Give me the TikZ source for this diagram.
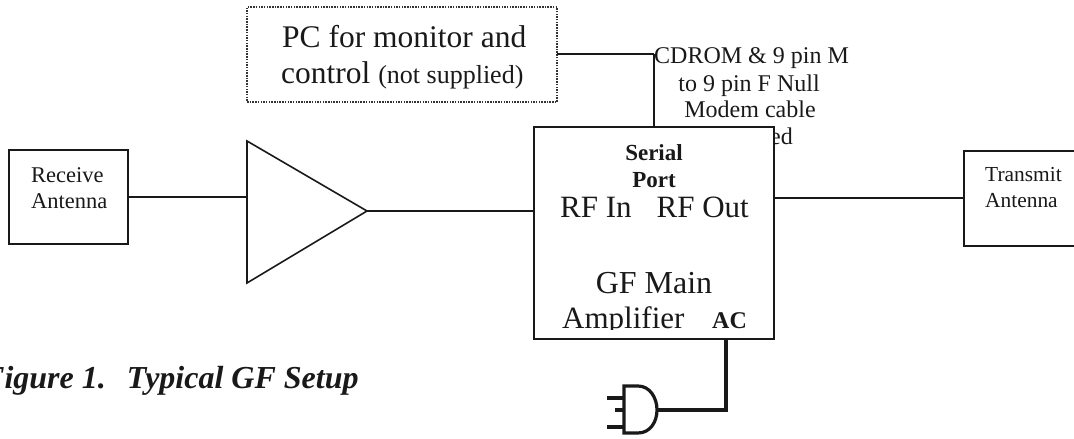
\documentclass[tikz,border=0pt]{standalone}
\usepackage{fontspec}
\setmainfont{Liberation Serif}
\newcommand{\fs}[1]{\fontsize{#1}{#1}\selectfont}
\tikzset{
  boxn/.style={draw=black!90,line width=1.5pt,fill=white,inner sep=0pt,outer sep=0pt,anchor=north west},
  wire/.style={draw=black!90,line width=1.6pt},
  thick wire/.style={draw=black!90,line width=3.2pt,line join=miter},
  lab/.style={inner sep=0pt,align=center,text=black!90,anchor=base},
  labl/.style={lab,anchor=base west},
  dotbox/.style={draw=black!80,line width=1.6pt,dash pattern=on 1.5pt off 1.2pt,inner sep=0pt,outer sep=0pt,anchor=north west}
}
\begin{document}
\begin{tikzpicture}[x=1pt,y=-1pt]
\useasboundingbox (0,0) rectangle (1074,439);
\clip (0,0) rectangle (1074,439);
\coordinate (jn) at (654,54);
\node[dotbox,minimum width=310pt,minimum height=95pt] (pc) at (247,7) {};
\node[boxn,minimum width=119pt,minimum height=94pt] (rx) at (9,150) {};
\node[boxn,minimum width=111pt,minimum height=95pt] (tx) at (964,151) {};
\coordinate (t1) at (247,141);
\coordinate (t2) at (367,211);
\coordinate (t3) at (247,283);
\draw[wire,line join=miter] (t1) -- (t2) -- (t3) -- cycle;
\coordinate (rxout) at (247,197);
\coordinate (txin) at (964,198);
% cable label (partly covered by the main box)
\node[labl] (cd) at (654,63) {\fs{24}CDROM \& 9 pin M};
\node[lab] (c2) at (749,91) {\fs{24}to 9 pin F Null};
\node[lab] (c3) at (750,117) {\fs{24}Modem cable};
\node[labl] (c4) at (770,144) {\fs{24}ed};
\draw[wire] (pc.east |- jn) -- (jn);
\node[boxn,minimum width=240pt,minimum height=212pt] (main) at (534,127) {};
\draw[wire] (jn) -- (jn |- main.north);
\draw[wire] (rx.east |- rxout) -- (rxout);
\draw[wire] (t2) -- (main.west |- t2);
\draw[wire] (main.east |- txin) -- (tx.west |- txin);
% text
\node[labl] (pc1) at (282,47) {\fs{31.5}PC for monitor and};
\node[labl] (pc2) at (281,83) {\fs{31.5}control {\fs{26}(not supplied)}};
\node[labl] (r1) at (31,182) {\fs{22.5}Receive};
\node[labl] (r2) at (31,208) {\fs{22.5}Antenna};
\node[labl] (t1l) at (985,181) {\fs{21.4}Transmit};
\node[labl] (t2l) at (985,207) {\fs{21.4}Antenna};
\node[lab] (s1) at (654,160) {\fs{23}\bfseries Serial};
\node[lab] (s2) at (654,187) {\fs{23}\bfseries Port};
\node[labl] (rf) at (560,217) {\fs{31}RF In\hspace{25pt}RF Out};
\node[lab] (gf) at (654,293) {\fs{32}GF Main};
\begin{scope}
\clip (534,300) rectangle (774,329);
\node[labl] (am) at (562,328) {\fs{31}Amplifier};
\end{scope}
\node[labl] (ac) at (712,328) {\fs{24}\bfseries AC};
\node[labl] (cap) at (-17,388) {\fs{32}\bfseries\itshape Figure 1.\hspace{21pt}Typical GF Setup};
% plug
\coordinate (acout) at (726,339);
\coordinate (elbow) at (726,410);
\coordinate (plugtip) at (657,410);
\draw[thick wire] (acout) -- (elbow) -- (plugtip);
\draw[thick wire] (624,386) -- (638,386) .. controls (650,386) and (657,398) .. (plugtip) .. controls (657,422) and (650,433) .. (638,433) -- (624,433) -- cycle;
\draw[thick wire] (624,398) -- (607,398);
\draw[thick wire] (624,410) -- (615,410);
\draw[thick wire] (624,427) -- (607,427);
\end{tikzpicture}
\end{document}
